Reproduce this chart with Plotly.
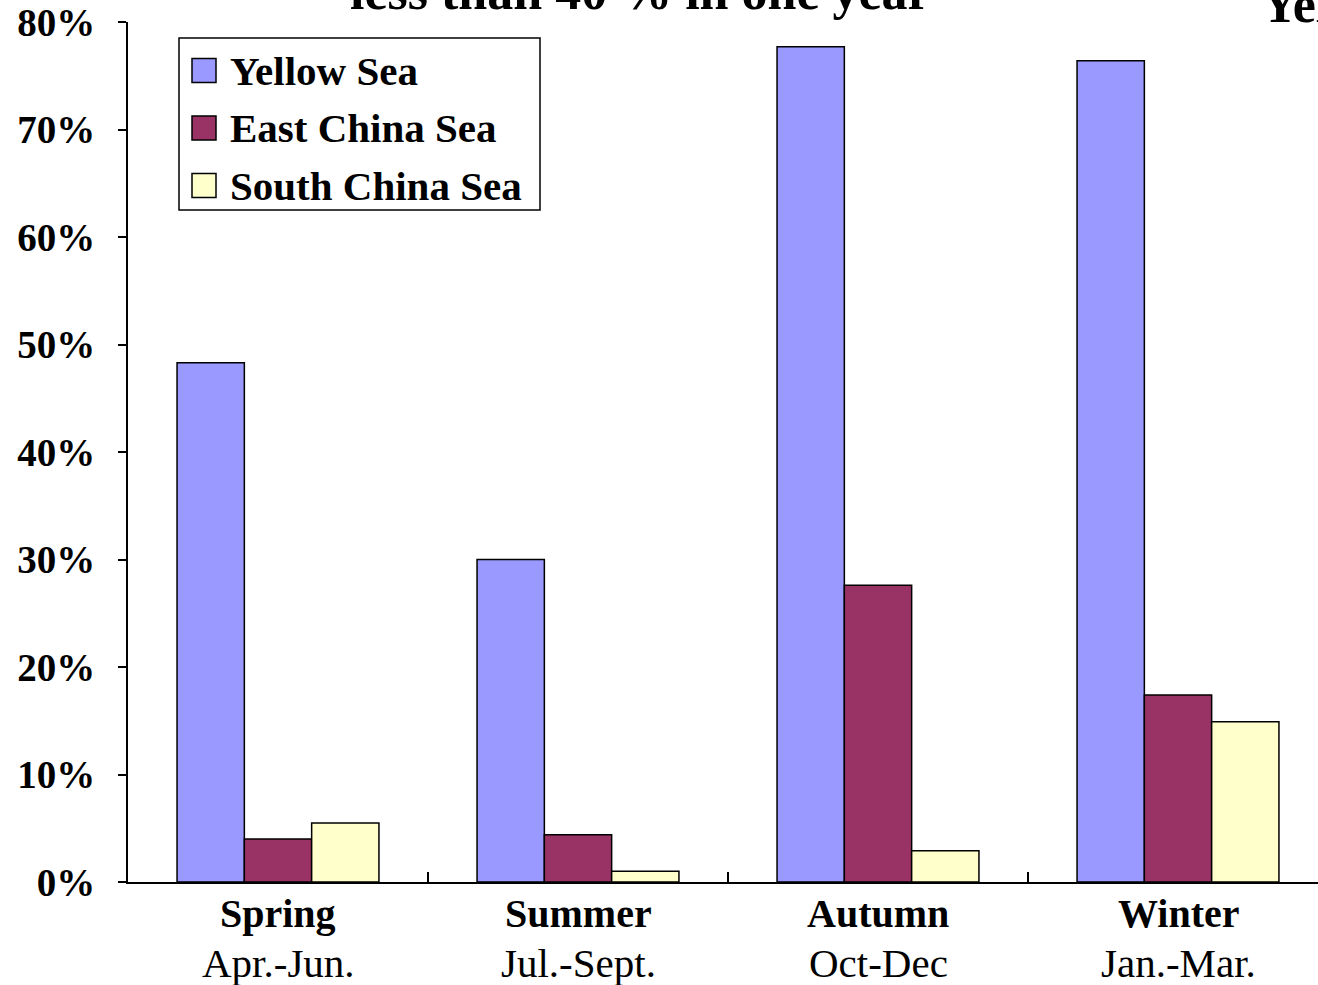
import plotly.graph_objects as go

# Seasonal share of sea area by basin
seasons = ["Spring", "Summer", "Autumn", "Winter"]
months = ["Apr.-Jun.", "Jul.-Sept.", "Oct-Dec", "Jan.-Mar."]
series_names = ["Yellow Sea", "East China Sea", "South China Sea"]
yellow_sea = [48.3, 30.0, 77.7, 76.4]
east_china_sea = [4.0, 4.4, 27.6, 17.4]
south_china_sea = [5.5, 1.0, 2.9, 14.9]
y_ticks = [0, 10, 20, 30, 40, 50, 60, 70, 80]

colors = ["#9999FF", "#993366", "#FFFFCC"]
values = [yellow_sea, east_china_sea, south_china_sea]

W, H = 1318, 985
L, R, T, B = 128, 0, 22, 103
PW, PH = W - L - R, H - T - B
SERIF = "Liberation Serif, Times New Roman, serif"


def px_x(x):
    return (x - L) / PW


def px_y(y):
    return (H - B - y) / PH


fig = go.Figure()
for name, vals, col in zip(series_names, values, colors):
    fig.add_trace(go.Bar(
        x=seasons, y=vals, name=name, showlegend=False,
        marker=dict(color=col, line=dict(color="black", width=1.5)),
    ))

fig.update_layout(
    width=W, height=H,
    margin=dict(l=L, r=R, t=T, b=B),
    plot_bgcolor="white", paper_bgcolor="white",
    barmode="group", bargap=0.327, bargroupgap=0,
    font=dict(family=SERIF, color="black"),
)
fig.update_xaxes(
    range=[-0.5, 3.5 - 10 / 300], showgrid=False, zeroline=False,
    showline=True, linecolor="black", linewidth=2,
    ticks="inside", tickson="boundaries", ticklen=10, tickwidth=1.5,
    tickcolor="black", showticklabels=False,
)
fig.update_yaxes(
    range=[0, 80], tickvals=y_ticks,
    ticktext=[f"<b>{v}%</b>" for v in y_ticks],
    showgrid=False, zeroline=False,
    showline=True, linecolor="black", linewidth=2,
    ticks="outside", ticklen=8, tickwidth=1.5, tickcolor="black",
    tickfont=dict(size=39, family=SERIF), ticklabelstandoff=15,
)

# category labels: season name over month range
for s, m in zip(seasons, months):
    fig.add_annotation(x=s, xref="x", y=px_y(914), yref="paper",
                       text=f"<b>{s}</b>", showarrow=False, yanchor="middle",
                       font=dict(size=40, family=SERIF))
    fig.add_annotation(x=s, xref="x", y=px_y(963), yref="paper",
                       text=m, showarrow=False, yanchor="middle",
                       font=dict(size=41, family=SERIF))

# legend box
box = dict(x0=179, x1=540, y0=38, y1=210)
fig.add_shape(type="rect", xref="paper", yref="paper",
              x0=px_x(box["x0"]), x1=px_x(box["x1"]),
              y0=px_y(box["y1"]), y1=px_y(box["y0"]),
              line=dict(color="black", width=1.5), fillcolor="white")
for i, (name, col) in enumerate(zip(series_names, colors)):
    cy = 70.5 + i * 57.5
    fig.add_shape(type="rect", xref="paper", yref="paper",
                  x0=px_x(192), x1=px_x(216), y0=px_y(cy + 12), y1=px_y(cy - 12),
                  line=dict(color="black", width=1.5), fillcolor=col)
    fig.add_annotation(x=px_x(228), xref="paper", y=px_y(cy), yref="paper",
                       text=f"<b>{name}</b>", showarrow=False,
                       xanchor="left", yanchor="middle",
                       font=dict(size=41, family=SERIF))

# headings partly outside the page
fig.add_annotation(x=px_x(640), xref="paper", y=px_y(-9), yref="paper",
                   text="<b>less than 40 % in one year</b>", showarrow=False,
                   xanchor="center", yanchor="middle",
                   font=dict(size=52, family=SERIF))
fig.add_annotation(x=px_x(1259), xref="paper", y=px_y(4), yref="paper",
                   text="<b>Yel</b>", showarrow=False,
                   xanchor="left", yanchor="middle",
                   font=dict(size=52, family=SERIF))

fig.write_html("out.html")
